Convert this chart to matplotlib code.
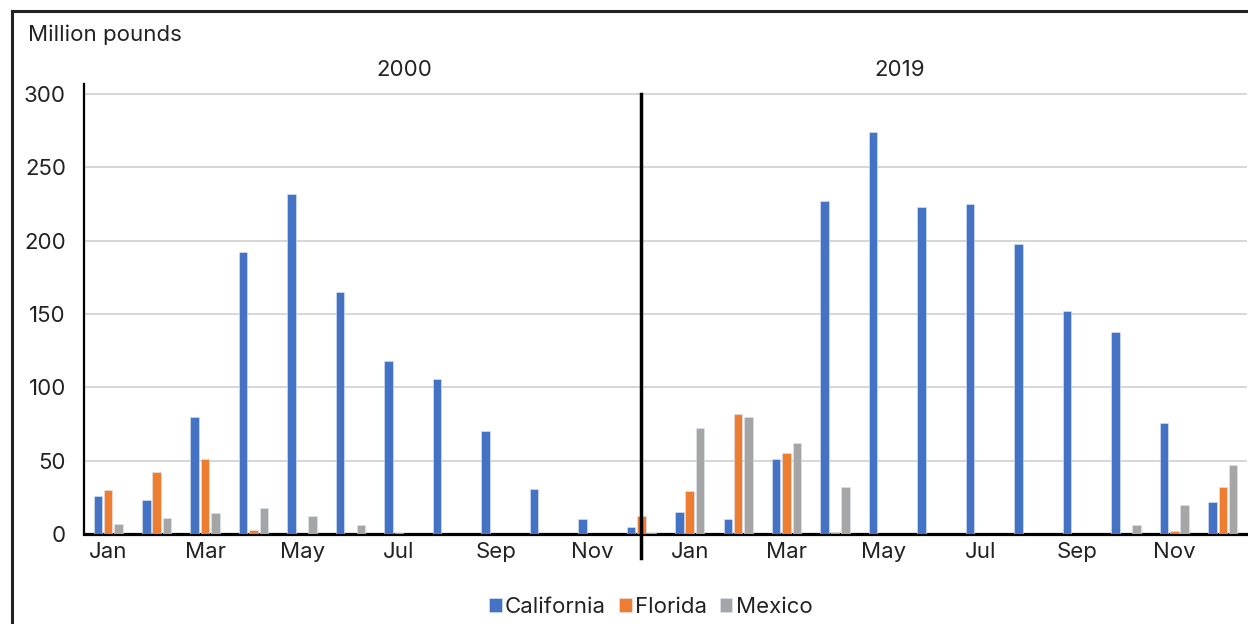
import numpy as np
import matplotlib.pyplot as plt
from matplotlib.lines import Line2D

plt.rcParams['font.family'] = ['Inter', 'DejaVu Sans']

# months for the two years shown side by side
months = ["Jan", "Feb", "Mar", "Apr", "May", "Jun",
          "Jul", "Aug", "Sep", "Oct", "Nov", "Dec"]
years = ["2000", "2019"]

# million pounds, Jan-Dec 2000 followed by Jan-Dec 2019
california = [26, 23, 80, 192, 232, 165, 118, 106, 70, 31, 10, 5,
              15, 10, 51, 227, 274, 223, 225, 198, 152, 138, 76, 22]
florida = [30, 42, 51, 3, 0, 0, 0.5, 0, 0, 0, 0, 12,
           29, 82, 55, 1.5, 0, 0, 0, 0, 0, 0, 2, 32]
mexico = [7, 11, 14, 18, 12, 6, 0, 0, 0, 0, 0, 1,
          72, 80, 62, 32, 0, 0, 0, 0, 0, 6, 20, 47]

series = [("California", california, "#4472C4"),
          ("Florida", florida, "#ED7D31"),
          ("Mexico", mexico, "#A5A5A5")]

fs = 16
txt_col = "#222222"

fig = plt.figure(figsize=(12.48, 6.24), dpi=100)
ax = fig.add_axes([84 / 1248, 1 - 534 / 624, 1163 / 1248, 440 / 624 * 307 / 300])

x = np.arange(len(california))
bar_w = 0.175
offset = 0.215
for i, (name, vals, col) in enumerate(series):
    ax.bar(x + (i - 1) * offset, vals, width=bar_w, color=col, label=name,
           edgecolor="#dfe7f5", linewidth=0.4, zorder=3)

ax.set_xlim(-0.5, len(x) - 0.5)
ax.set_ylim(0, 307)
ax.set_yticks([0, 50, 100, 150, 200, 250, 300])
tick_pos = [i for i in range(len(x)) if i % 2 == 0]
ax.set_xticks(tick_pos)
ax.set_xticklabels([months[i % 12] for i in tick_pos])
ax.tick_params(axis="both", length=0, labelsize=fs, colors=txt_col)
ax.tick_params(axis="y", pad=13)
ax.tick_params(axis="x", pad=6)

ax.yaxis.grid(True, color="#d0d0d0", linewidth=1.2, zorder=0)
ax.set_axisbelow(True)
for side in ["top", "right"]:
    ax.spines[side].set_visible(False)
ax.spines["left"].set_linewidth(1.6)
ax.spines["bottom"].set_linewidth(2.3)
ax.spines["left"].set_color("black")
ax.spines["bottom"].set_color("black")

# divider between the two years
ax.plot([11, 11], [-16.5, 300], color="black", linewidth=2.5,
        clip_on=False, zorder=5)

# year labels and unit label
fig.text(404 / 1248, 1 - 70 / 624, years[0], ha="center", va="center",
         fontsize=fs, color=txt_col)
fig.text(900 / 1248, 1 - 70 / 624, years[1], ha="center", va="center",
         fontsize=fs, color=txt_col)
fig.text(28 / 1248, 1 - 35 / 624, "Million pounds", ha="left", va="center",
         fontsize=fs, color=txt_col)

fig.legend(loc="center", bbox_to_anchor=(651 / 1248, 1 - 607 / 624), ncol=3,
           frameon=False, fontsize=fs, handlelength=0.55, handleheight=0.55,
           handletextpad=0.15, columnspacing=0.6, labelcolor=txt_col)

# outer frame (left and top only)
fig.add_artist(Line2D([12 / 1248, 12 / 1248], [0, 1 - 11 / 624],
                      transform=fig.transFigure, color=txt_col, linewidth=2.2))
fig.add_artist(Line2D([12 / 1248, 1], [1 - 11 / 624, 1 - 11 / 624],
                      transform=fig.transFigure, color=txt_col, linewidth=2.2))

fig.savefig("out.png", dpi=100)
